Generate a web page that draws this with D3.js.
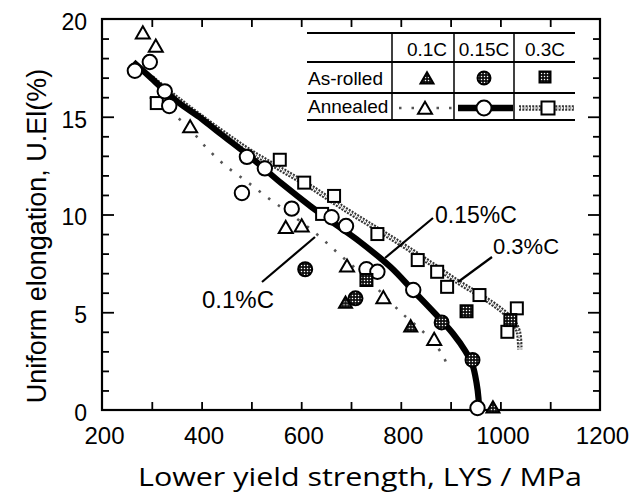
<!DOCTYPE html>
<html><head><meta charset="utf-8">
<script src="https://cdn.jsdelivr.net/npm/d3@7"></script>
<style>html,body{margin:0;padding:0;background:#fff;}svg{display:block;}</style>
</head><body>
<script>
// ---- data ----
const annealed01 = [[282,19.25],[308,18.58],[377,14.45],[569,9.3],[601,9.38],[692,7.33],[765,5.71],[867,3.58]];
const rolled01 = [[689,5.46],[820,4.25],[985,0.1]];
const annealed015 = [[266,17.35],[296,17.8],[326,16.3],[335,15.55],[481,11.1],[491,12.95],[527,12.36],[581,10.3],[661,9.86],[690,9.41],[731,7.2],[753,7.07],[825,6.14],[954,0.1]];
const rolled015 = [[608,7.2],[709,5.71],[882,4.48],[944,2.56]];
const annealed03 = [[310,15.7],[557,12.8],[606,11.63],[642,10.03],[666,10.95],[753,9.0],[834,7.67],[873,7.07],[893,6.3],[958,5.88],[1033,5.2],[1014,4.0]];
const rolled03 = [[731,6.65],[932,5.05],[1020,4.6]];
const curve01 = [[296,16.0],[330,15.4],[376,14.4],[403,13.6],[443,12.6],[490,11.7],[536,10.8],[580,10.0],[631,9.0],[675,8.0],[720,7.0],[765,5.9],[802,4.95],[845,4.0],[882,2.9],[896,2.1]];
const curve015 = [[263,17.8],[300,16.95],[350,15.8],[400,14.9],[437,14.15],[500,12.9],[560,11.6],[620,10.4],[680,9.3],[718,8.6],[780,7.3],[825,6.1],[870,4.9],[905,3.9],[930,3.0],[944,2.3],[952,1.4],[956,0.6],[957,0]];
const curve03 = [[300,17.0],[350,15.95],[437,14.3],[500,13.2],[560,12.3],[620,11.4],[680,10.4],[740,9.45],[800,8.5],[860,7.5],[915,6.55],[960,5.85],[1000,5.15],[1024,4.6],[1036,4.0],[1039,3.1]];
const xTickLabels = [200,400,600,800,1000,1200];
const yTickLabels = [0,5,10,15,20];
const legendCols = ["0.1C","0.15C","0.3C"];
const legendRows = ["As-rolled","Annealed"];
const curveLabels = [{t:"0.1%C"},{t:"0.15%C"},{t:"0.3%C"}];

const W=638,H=495;
const FONT="'Liberation Sans', Arial, Helvetica, sans-serif";
const svg=d3.select("body").append("svg").attr("width",W).attr("height",H);
const defs=svg.append("defs");
const pat=defs.append("pattern").attr("id","dots").attr("patternUnits","userSpaceOnUse").attr("width",3).attr("height",3);
pat.append("rect").attr("width",3).attr("height",3).attr("fill","#111");
pat.append("circle").attr("cx",1.5).attr("cy",1.5).attr("r",0.75).attr("fill","#fff");

const x=d3.scaleLinear().domain([200,1200]).range([102,600]);
const y=d3.scaleLinear().domain([0,20]).range([410,19]);

// ticks
const xt=d3.range(300,1200,100);
const ymin=d3.range(1,20).filter(v=>v%5!==0), ymaj=[5,10,15];
function noLab(a){return a.tickFormat("").tickSizeOuter(0);}
svg.append("g").attr("transform","translate(0,410)").call(noLab(d3.axisBottom(x).tickValues(xt).tickSize(-8)));
svg.append("g").attr("transform","translate(0,19)").call(noLab(d3.axisTop(x).tickValues(xt).tickSize(-8)));
svg.append("g").attr("transform","translate(102,0)").call(noLab(d3.axisLeft(y).tickValues(ymin).tickSize(-7)));
svg.append("g").attr("transform","translate(102,0)").call(noLab(d3.axisLeft(y).tickValues(ymaj).tickSize(-12)));
svg.append("g").attr("transform","translate(600,0)").call(noLab(d3.axisRight(y).tickValues(ymin).tickSize(-7)));
svg.append("g").attr("transform","translate(600,0)").call(noLab(d3.axisRight(y).tickValues(ymaj).tickSize(-12)));
svg.selectAll(".domain").remove();
svg.selectAll(".tick line").attr("stroke","#000").attr("stroke-width",1.8);

// tick labels
const gx=svg.append("g").attr("transform","translate(2,410)").call(d3.axisBottom(x).tickValues(xTickLabels).tickSize(0).tickPadding(17).tickFormat(d3.format("d")));
gx.select(".domain").remove();
gx.selectAll("text").attr("font-family",FONT).attr("font-size",24).attr("fill","#000");
const gy=svg.append("g").attr("transform","translate(102,0)").call(d3.axisLeft(y).tickValues(yTickLabels).tickSize(0).tickPadding(15));
gy.select(".domain").remove();
gy.selectAll("text").attr("font-family",FONT).attr("font-size",23).attr("dy","0.45em").attr("fill","#000");

// frame
svg.append("rect").attr("x",102).attr("y",19).attr("width",498).attr("height",391).attr("fill","none").attr("stroke","#000").attr("stroke-width",2.2);

// axis titles
svg.append("text").attr("x",138).attr("y",486).attr("font-family","'Open Sans','Noto Sans',sans-serif").attr("font-size",26)
  .attr("textLength",444).attr("lengthAdjust","spacingAndGlyphs").text("Lower yield strength, LYS / MPa");
svg.append("text").attr("transform","translate(46,236) rotate(-90)").attr("text-anchor","middle").attr("font-family",FONT).attr("font-size",27)
  .text("Uniform elongation, U.El(%)");

// lines
const line=d3.line().x(d=>x(d[0])).y(d=>y(d[1])).curve(d3.curveCatmullRom.alpha(0.5));
svg.append("path").attr("d",line(curve01)).attr("fill","none").attr("stroke","#555").attr("stroke-width",2.6).attr("stroke-dasharray","2.5 9.5");
svg.append("path").attr("d",line(curve03)).attr("fill","none").attr("stroke","#333").attr("stroke-width",5.5).attr("stroke-dasharray","2 1.3");
svg.append("path").attr("d",line(curve03)).attr("fill","none").attr("stroke","#fff").attr("stroke-width",1.6).attr("stroke-dasharray","1.3 2");
svg.append("path").attr("d",line(curve015)).attr("fill","none").attr("stroke","#000").attr("stroke-width",6.2);

// marker helpers
const triPath=(s)=>{const h=s*0.87;return `M0,${-h*0.6}L${s/2},${h*0.4}L${-s/2},${h*0.4}Z`;};
function tri(g,data,fill,s){g.selectAll(null).data(data).enter().append("path").attr("d",triPath(s))
  .attr("transform",d=>`translate(${x(d[0])},${y(d[1])})`).attr("fill",fill).attr("stroke","#000").attr("stroke-width",2);}
function circ(g,data,fill,r){g.selectAll(null).data(data).enter().append("circle").attr("cx",d=>x(d[0])).attr("cy",d=>y(d[1])).attr("r",r)
  .attr("fill",fill).attr("stroke","#000").attr("stroke-width",2);}
function sq(g,data,fill,s){g.selectAll(null).data(data).enter().append("rect").attr("x",d=>x(d[0])-s/2).attr("y",d=>y(d[1])-s/2)
  .attr("width",s).attr("height",s).attr("fill",fill).attr("stroke","#000").attr("stroke-width",2);}
const gm=svg.append("g");
sq(gm,annealed03,"#fff",12);
circ(gm,annealed015,"#fff",7.2);
tri(gm,annealed01,"#fff",14);
sq(gm,rolled03,"url(#dots)",12);
circ(gm,rolled015,"url(#dots)",7);
tri(gm,rolled01,"url(#dots)",13);

// curve labels with pointers
const lab=svg.append("g").attr("font-family",FONT).attr("fill","#000");
const labPos=[{x:202,y:308,fs:24,l:[262,282,315,237]},{x:435,y:223,fs:23,l:[433,218,385,258]},{x:493,y:254,fs:22,l:[492,257,458,282]}];
curveLabels.forEach((c,i)=>{const p=labPos[i];
  lab.append("text").attr("x",p.x).attr("y",p.y).attr("font-size",p.fs).text(c.t);
  lab.append("line").attr("x1",p.l[0]).attr("y1",p.l[1]).attr("x2",p.l[2]).attr("y2",p.l[3]).attr("stroke","#000").attr("stroke-width",2.2);
});

// legend table
const lg=svg.append("g").attr("font-family",FONT).attr("font-size",19);
[33,62,93,120].forEach((yy,i)=>lg.append("line").attr("x1",307).attr("x2",575).attr("y1",yy).attr("y2",yy).attr("stroke","#000").attr("stroke-width",i===0?2.2:1.8));
[392,454,514].forEach(xx=>lg.append("line").attr("x1",xx).attr("x2",xx).attr("y1",33).attr("y2",120).attr("stroke","#000").attr("stroke-width",1.5));
const colX=[427,484,545];
legendCols.forEach((c,i)=>lg.append("text").attr("x",colX[i]).attr("y",56).attr("text-anchor","middle").text(c));
legendRows.forEach((r,i)=>lg.append("text").attr("x",308).attr("y",[85,113][i]).text(r));
// legend symbols (pixel space)
lg.append("path").attr("d",triPath(13)).attr("transform","translate(427,79)").attr("fill","url(#dots)").attr("stroke","#000").attr("stroke-width",2);
lg.append("circle").attr("cx",484).attr("cy",78).attr("r",6.5).attr("fill","url(#dots)").attr("stroke","#000").attr("stroke-width",2);
lg.append("rect").attr("x",539.5).attr("y",71.5).attr("width",11).attr("height",11).attr("fill","url(#dots)").attr("stroke","#000").attr("stroke-width",2);
lg.append("line").attr("x1",397).attr("x2",456).attr("y1",108).attr("y2",108).attr("stroke","#555").attr("stroke-width",2.6).attr("stroke-dasharray","2.5 10").attr("stroke-dashoffset",-2);
lg.append("path").attr("d",triPath(14)).attr("transform","translate(425,109)").attr("fill","#fff").attr("stroke","#000").attr("stroke-width",2);
lg.append("line").attr("x1",458).attr("x2",513).attr("y1",108).attr("y2",108).attr("stroke","#000").attr("stroke-width",6.5);
lg.append("circle").attr("cx",484).attr("cy",108).attr("r",7.5).attr("fill","#fff").attr("stroke","#000").attr("stroke-width",2);
lg.append("line").attr("x1",519).attr("x2",575).attr("y1",108).attr("y2",108).attr("stroke","#333").attr("stroke-width",5.5).attr("stroke-dasharray","2 1.3");
lg.append("line").attr("x1",519).attr("x2",575).attr("y1",108).attr("y2",108).attr("stroke","#fff").attr("stroke-width",1.6).attr("stroke-dasharray","1.3 2");
lg.append("rect").attr("x",541.5).attr("y",101.5).attr("width",13).attr("height",13).attr("fill","#fff").attr("stroke","#000").attr("stroke-width",2);
</script>
</body></html>
